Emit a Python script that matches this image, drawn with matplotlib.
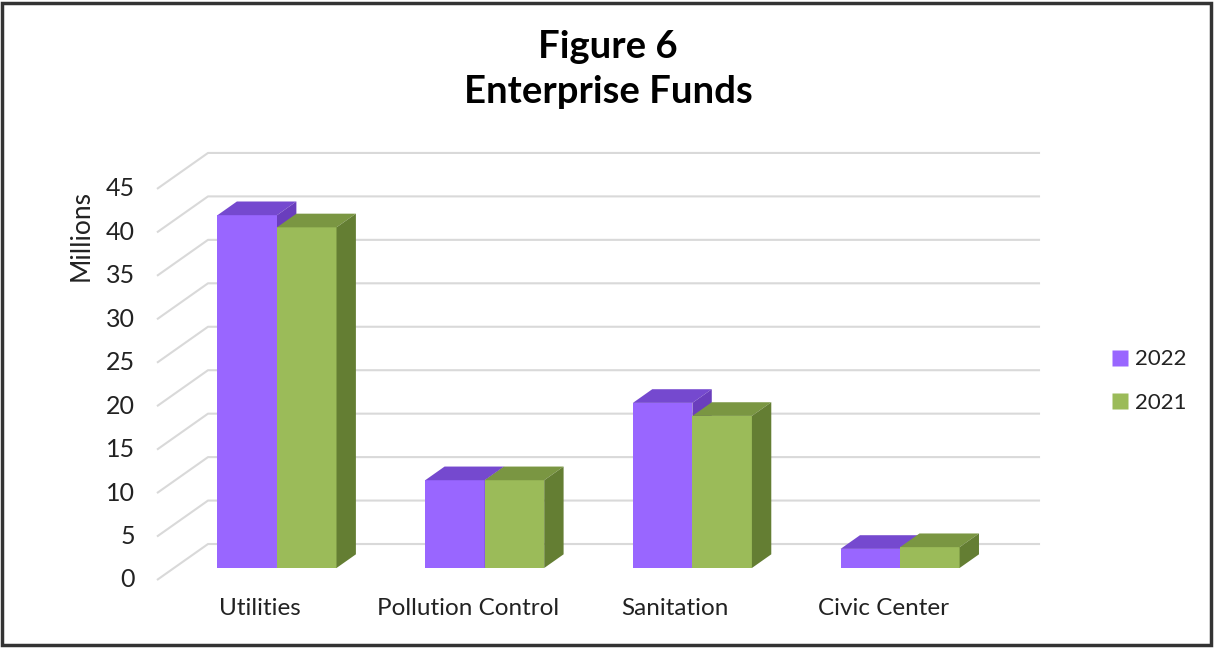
import matplotlib.pyplot as plt
from matplotlib.patches import Polygon, Rectangle
from matplotlib.lines import Line2D

plt.rcParams['font.family'] = ['Lato', 'DejaVu Sans']

categories = ["Utilities", "Pollution Control", "Sanitation", "Civic Center"]
years = ["2022", "2021"]
funds_2022 = [40.6, 10.1, 19.0, 2.2]
funds_2021 = [39.2, 10.1, 17.5, 2.4]
y_ticks = [0, 5, 10, 15, 20, 25, 30, 35, 40, 45]

# front / top / side shades for each series
shades = {
    "2022": ("#9966FF", "#7549CF", "#6A3EBD"),
    "2021": ("#9BBB59", "#7A9642", "#647E33"),
}
text_col = "#222222"

# fake 3D geometry, in data units (x = category slot, y = millions)
bar_w = 0.2865
depth = (0.2456, 4.14)      # full floor depth vector
t_front = -1 / 3            # front edge of floor, relative to bar plane
t_back = 2 / 3              # back wall
t_bar = 0.38                # bar thickness as a share of the depth
wall_left = -0.496
wall_right = 3.51

fig = plt.figure(figsize=(12.16, 6.48), dpi=100)
ax = fig.add_axes([0, 0, 1, 1])
ax.set_xlim(-1.3337, 4.521)
ax.set_ylim(-9.206, 65.36)
ax.axis("off")


def at(x, y, t):
    return (x + t * depth[0], y + t * depth[1])


# gridlines: diagonal from the front edge, then along the back wall
for v in y_ticks:
    p0 = at(wall_left, v, t_front)
    p1 = at(wall_left, v, t_back)
    p2 = at(wall_right, v, t_back)
    ax.plot([p0[0], p1[0], p2[0]], [p0[1], p1[1], p2[1]],
            color="#D9D9D9", lw=1.5, zorder=1, solid_capstyle="butt")
    ax.text(p0[0] - 0.105, p0[1], str(v), ha="right", va="center",
            fontsize=18, color=text_col)

ax.text(-0.945, 38.3, "Millions", rotation=90, ha="center", va="center",
        fontsize=19, color=text_col)


def bar3d(x0, h, colors, z):
    front, top, side = colors
    dx, dy = depth[0] * t_bar, depth[1] * t_bar
    ax.add_patch(Rectangle((x0, 0), bar_w, h, facecolor=front,
                           edgecolor="none", zorder=z))
    ax.add_patch(Polygon([(x0, h), (x0 + bar_w, h), (x0 + bar_w + dx, h + dy),
                          (x0 + dx, h + dy)], closed=True,
                         facecolor=top, edgecolor="none", zorder=z))
    ax.add_patch(Polygon([(x0 + bar_w, 0), (x0 + bar_w + dx, dy),
                          (x0 + bar_w + dx, h + dy), (x0 + bar_w, h)],
                         closed=True, facecolor=side, edgecolor="none", zorder=z))


for i, cat in enumerate(categories):
    bar3d(i - bar_w, funds_2022[i], shades["2022"], 2 + 2 * i)
    bar3d(i, funds_2021[i], shades["2021"], 3 + 2 * i)
    lx, _ = at(i, 0, t_front)
    ax.text(lx, -4.7, cat, ha="center", va="center", fontsize=17.5,
            color=text_col)

fig.text(0.5, 1 - 47 / 648, "Figure 6", ha="center", va="center",
         fontsize=27.5, fontweight="bold", color="black")
fig.text(0.5, 1 - 92 / 648, "Enterprise Funds", ha="center", va="center",
         fontsize=27.5, fontweight="bold", color="black")

handles = [Line2D([], [], marker="s", linestyle="none", markersize=11,
                  markerfacecolor=shades[y][0], markeredgecolor="none")
           for y in years]
fig.legend(handles, years, loc="center left",
           bbox_to_anchor=(1089 / 1216, 1 - 381 / 648), frameon=False,
           fontsize=16, labelspacing=1.05, handletextpad=0.15,
           handlelength=1.0, labelcolor=text_col)

# dark frame round the whole chart
fig.patches.append(Rectangle((0.002, 0.004), 0.994, 0.991,
                             transform=fig.transFigure, fill=False,
                             edgecolor="#333333", lw=2.5))

fig.savefig("out.png", dpi=100)
